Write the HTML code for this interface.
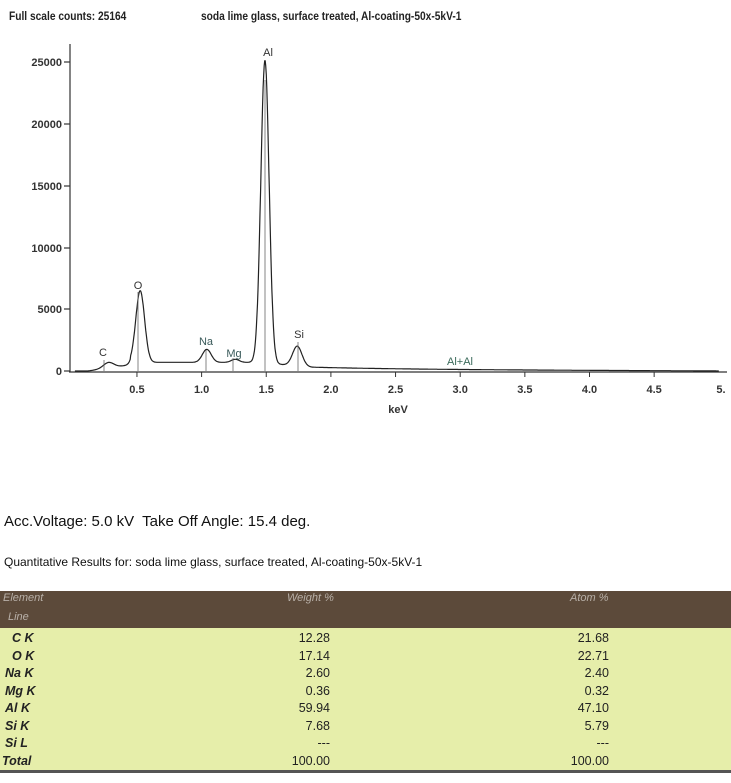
<!DOCTYPE html>
<html><head><meta charset="utf-8"><style>
body{margin:0;width:731px;height:783px;background:#fff;position:relative;overflow:hidden;font-family:"Liberation Sans",sans-serif;}
.t{position:absolute;white-space:nowrap;}
</style></head><body>
<div class="t" style="left:9px;top:9px;font-size:12px;font-weight:bold;color:#222;transform:scaleX(0.85);transform-origin:left">Full scale counts: 25164</div>
<div class="t" style="left:201px;top:9px;font-size:12px;font-weight:bold;color:#222;transform:scaleX(0.85);transform-origin:left">soda lime glass, surface treated, Al-coating-50x-5kV-1</div>
<svg width="731" height="420" style="position:absolute;left:0;top:0" font-family="Liberation Sans" font-size="11" font-weight="bold">
<g stroke="#333" stroke-width="1.2" fill="none">
<line x1="70" y1="44" x2="70" y2="372"/>
<line x1="69" y1="372" x2="727" y2="372"/>
<line x1="64" y1="62" x2="70" y2="62"/><line x1="64" y1="124" x2="70" y2="124"/><line x1="64" y1="186" x2="70" y2="186"/><line x1="64" y1="248" x2="70" y2="248"/><line x1="64" y1="309" x2="70" y2="309"/><line x1="64" y1="371" x2="70" y2="371"/>
</g>
<g fill="#333" text-anchor="end" font-size="11">
<text x="62" y="66">25000</text><text x="62" y="128">20000</text><text x="62" y="190">15000</text><text x="62" y="252">10000</text><text x="62" y="313">5000</text><text x="62" y="375">0</text>
</g>
<g id="xt" fill="#333" text-anchor="middle" font-size="11"></g>
<text x="398" y="413" fill="#333" text-anchor="middle">keV</text>
<path id="sp" fill="none" stroke="#222" stroke-width="1.2"/>
<g stroke="#666" stroke-width="0.8">
<line x1="104" y1="360" x2="104" y2="371"/><line x1="138" y1="292" x2="138" y2="371"/><line x1="206" y1="350" x2="206" y2="371"/><line x1="233" y1="358" x2="233" y2="371"/><line x1="265" y1="80" x2="265" y2="371"/><line x1="298" y1="342" x2="298" y2="371"/>
</g>
<g font-size="11" text-anchor="middle" font-weight="normal">
<text x="103" y="356" fill="#333">C</text>
<text x="138" y="289" fill="#333">O</text>
<text x="206" y="345" fill="#3a5a5a">Na</text>
<text x="234" y="357" fill="#3a5a5a">Mg</text>
<text x="268" y="56" fill="#333">Al</text>
<text x="299" y="338" fill="#333">Si</text>
<text x="460" y="365" fill="#3a6a5a">Al+Al</text>
</g>
</svg>
<div class="t" style="left:4px;top:513px;font-size:15px;color:#111">Acc.Voltage: 5.0 kV&nbsp; Take Off Angle: 15.4 deg.</div>
<div class="t" style="left:4px;top:555px;font-size:12px;color:#111">Quantitative Results for: soda lime glass, surface treated, Al-coating-50x-5kV-1</div>
<div style="position:absolute;left:0;top:591px;width:731px;height:37px;background:#5c4a3a"></div>
<div style="position:absolute;left:0;top:628px;width:731px;height:143px;background:#e6eeaa"></div>
<div style="position:absolute;left:0;top:770px;width:731px;height:3px;background:#555"></div>
<div class="t" style="left:3px;top:592px;font-size:11px;font-style:italic;color:#b8b0a8">Element</div>
<div class="t" style="left:8px;top:611px;font-size:11px;font-style:italic;color:#b8b0a8">Line</div>
<div class="t" style="left:287px;top:592px;font-size:11px;font-style:italic;color:#b8b0a8">Weight %</div>
<div class="t" style="left:570px;top:592px;font-size:11px;font-style:italic;color:#b8b0a8">Atom %</div>
<div id="rows"></div>
<script>
var xt=document.getElementById('xt'),s='';
[0.5,1.0,1.5,2.0,2.5,3.0,3.5,4.0,4.5].forEach(function(v){var x=72.3+v*129.3;s+='<text x="'+x+'" y="393">'+v.toFixed(1)+'</text><line x1="'+x+'" y1="372" x2="'+x+'" y2="377" stroke="#333"/>';});
s+='<text x="721" y="393">5.</text>';xt.innerHTML=s;
var pk=[[0.28,450,0.04],[0.525,5800,0.034],[1.04,1050,0.034],[1.26,250,0.03],[1.49,24500,0.032],[1.74,1600,0.036]];
var d='';
for(var e=0.02;e<=5.0;e+=0.004){var b;
if(e<0.12)b=0;else if(e<0.45)b=(e-0.12)/0.33*500;else if(e<1.42)b=700;else b=700*Math.exp(-(e-1.42)*1.3)*0.45+150*Math.max(0,(5-e)/3.6);
if(e>=1.42&&e<2.0)b=Math.max(b,700-(e-1.42)*900);
var y=b;pk.forEach(function(p){y+=p[1]*Math.exp(-Math.pow(e-p[0],2)/(2*p[2]*p[2]));});
var px=72.3+e*129.3,py=371-y*0.01236;d+=(d?'L':'M')+px.toFixed(1)+' '+py.toFixed(1);}
document.getElementById('sp').setAttribute('d',d);
var r=[['C K','12.28','21.68'],['O K','17.14','22.71'],['Na K','2.60','2.40'],['Mg K','0.36','0.32'],['Al K','59.94','47.10'],['Si K','7.68','5.79'],['Si L','---','---'],['Total','100.00','100.00']];
var h='';r.forEach(function(a,i){var t=631+i*17.5;var l=(i<2)?12:(i==7?2:5);
h+='<div class="t" style="left:'+l+'px;top:'+t+'px;font-size:12.5px;font-weight:bold;font-style:italic;color:#222">'+a[0]+'</div>';
h+='<div class="t" style="right:401px;top:'+t+'px;font-size:12.5px;color:#222">'+a[1]+'</div>';
h+='<div class="t" style="right:122px;top:'+t+'px;font-size:12.5px;color:#222">'+a[2]+'</div>';});
document.getElementById('rows').innerHTML=h;
</script>
</body></html>
